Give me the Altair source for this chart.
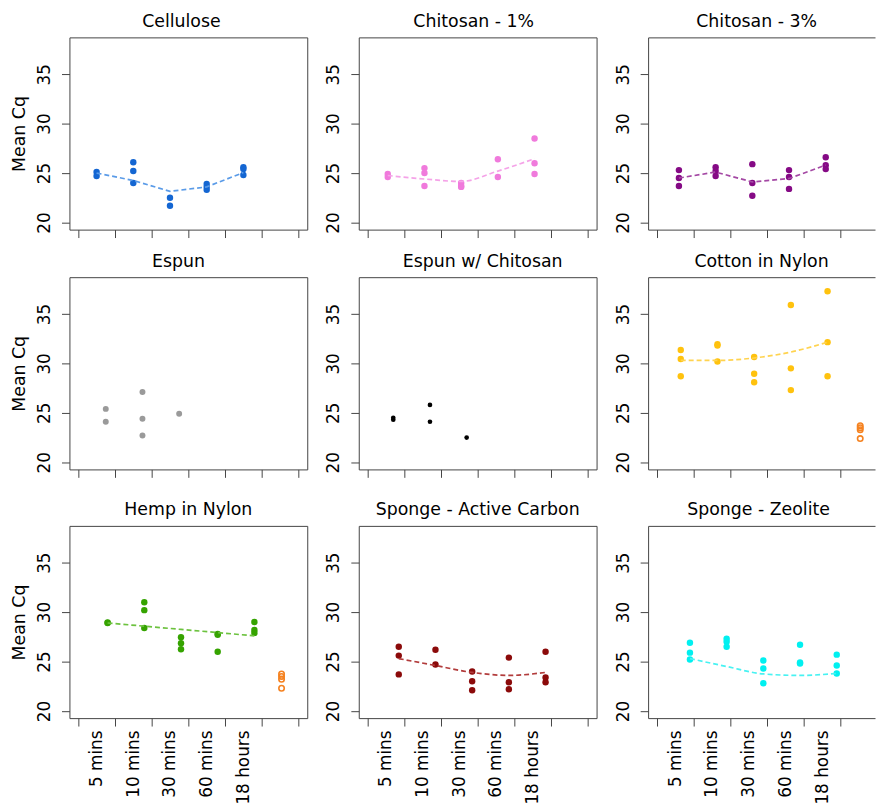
import altair as alt
import pandas as pd

# ---------------- data ----------------
materials = ["Cellulose", "Chitosan - 1%", "Chitosan - 3%",
             "Espun", "Espun w/ Chitosan", "Cotton in Nylon",
             "Hemp in Nylon", "Sponge - Active Carbon", "Sponge - Zeolite"]
time_labels = ["5 mins", "10 mins", "30 mins", "60 mins", "18 hours"]

# replicate Mean Cq values per time point (5 mins, 10 mins, 30 mins, 60 mins, 18 hours)
cellulose = [[25.1, 24.7], [26.1, 25.2, 24.0], [22.5, 21.7], [23.9, 23.6, 23.3], [25.6, 25.4, 24.8]]
chitosan_1 = [[24.9, 24.6], [25.5, 25.0, 23.7], [24.0, 23.7, 23.6], [26.4, 24.6], [28.5, 26.0, 24.9]]
chitosan_3 = [[25.3, 24.5, 23.7], [25.6, 25.2, 24.7], [25.9, 24.0, 22.7], [25.3, 24.6, 23.4], [26.6, 25.8, 25.4]]
espun = [[25.4, 24.1], [27.1, 24.4, 22.7], [24.9], [], []]
espun_chitosan = [[24.5, 24.3], [25.8, 24.1], [22.5], [], []]
cotton_nylon = [[31.35, 30.45, 28.7], [31.95, 31.8, 30.2], [30.65, 28.95, 28.1], [35.9, 29.5, 27.3], [37.3, 32.15, 28.7]]
hemp_nylon = [[28.95, 28.9], [31.0, 30.2, 28.4], [27.45, 26.85, 26.25], [27.8, 27.7, 26.0], [29.0, 28.2, 27.9]]
sponge_carbon = [[26.5, 25.6, 23.7], [26.2, 24.7], [24.0, 23.0, 22.1], [25.4, 22.9, 22.2], [26.0, 23.4, 22.9]]
sponge_zeolite = [[26.9, 25.9, 25.2], [27.3, 27.0, 26.5], [25.1, 24.3, 22.8], [26.7, 24.9, 24.8], [25.7, 24.6, 23.8]]
series = [cellulose, chitosan_1, chitosan_3, espun, espun_chitosan,
          cotton_nylon, hemp_nylon, sponge_carbon, sponge_zeolite]

# dashed trend (fitted) values at each time point, None = no trend line
fit_cellulose = [25.0, 24.25, 23.15, 23.6, 25.05]
fit_chitosan_1 = [24.75, 24.4, 24.15, 25.2, 26.45]
fit_chitosan_3 = [24.5, 25.1, 24.1, 24.45, 25.8]
fit_cotton = [30.3, 30.3, 30.55, 31.15, 32.15]
fit_hemp = [28.9, 28.58, 28.25, 27.93, 27.6]
fit_carbon = [25.3, 24.6, 23.9, 23.6, 23.9]
fit_zeolite = [25.3, 24.5, 23.75, 23.6, 23.8]
fits = [fit_cellulose, fit_chitosan_1, fit_chitosan_3, None, None,
        fit_cotton, fit_hemp, fit_carbon, fit_zeolite]
fit_interp = ["linear", "monotone", "linear", None, None,
              "monotone", "linear", "monotone", "monotone"]

# control samples (open orange circles) plotted after the last time point
control_cotton = [23.7, 23.5, 23.3, 22.4]
control_hemp = [23.75, 23.5, 23.2, 22.3]
controls = [None, None, None, None, None, control_cotton, control_hemp, None, None]
control_pos = 6.04

# small horizontal dodge of each material's points
offsets = [0.0, 0.05, 0.1, 0.25, 0.2, 0.15, 0.3, 0.35, 0.4]

# ---------------- styles ----------------
point_colors = ["#1466D2", "#F07ADC", "#850A85", "#9A9A9A", "#000000",
                "#FFC20E", "#35A300", "#8B0A0A", "#00F0F0"]
line_colors = ["#5A9BE8", "#F5A3E8", "#A448A4", None, None,
               "#FFD34F", "#6CC23E", "#B23C3C", "#48F2F2"]
point_sizes = [42, 42, 42, 36, 22, 42, 42, 42, 42]
title_shift = [-7, -4, -5, -10, 5, 0, 0, 0, -3]
control_color = "#F58220"
edge = "#444444"
FONT = "DejaVu Sans"
PX_PER_UNIT = 240 / 6.48
col_widths = [240, 240, 229]   # last column is cut by the right edge, as in the reference
row_axis_extent = [8, 17, 110]

label_expr = " : ".join(
    [f"datum.value === {k + 1} ? '{t}'" for k, t in enumerate(time_labels)]) + " : ''"

yscale = alt.Scale(domain=[19.28, 38.72], nice=False, zero=False)


def make_panel(i, row, col):
    vals = series[i]
    off = offsets[i]
    w = col_widths[col]
    last = (col == 2)
    xmax = 0.26 + w / PX_PER_UNIT
    xscale = alt.Scale(domain=[0.26, xmax], nice=False, zero=False)
    tick_vals = [v / 2 for v in range(1, 14) if v / 2 < xmax]

    pts = pd.DataFrame({
        "x": [k + 1 + off for k, g in enumerate(vals) for _ in g],
        "y": [v for g in vals for v in g],
    })
    xext = row_axis_extent[row]
    xaxis = alt.Axis(
        values=tick_vals, title=None, domain=last, domainColor=edge, domainWidth=1,
        grid=False, tickSize=8, tickColor=edge, tickWidth=1,
        tickOpacity={"condition": {"test": "datum.value % 1 === 0", "value": 0}, "value": 1},
        labels=(row == 2), labelExpr=label_expr, labelAngle=270,
        labelAlign="right", labelBaseline="middle", labelPadding=4,
        labelFontSize=17, labelColor="black", labelOverlap=False,
        labelBound=False, labelFlush=False,
        minExtent=xext, maxExtent=xext,
    )
    yaxis = alt.Axis(
        values=[20, 25, 30, 35], title=("Mean Cq" if col == 0 else None),
        domain=last, domainColor=edge, domainWidth=1,
        grid=False, tickSize=8, tickColor=edge, tickWidth=1,
        labelAngle=270, labelAlign="center", labelBaseline="alphabetic",
        labelPadding=12, labelFontSize=17, labelColor="black",
        minExtent=34, maxExtent=34,
        titleFontSize=17.5, titleFontWeight="normal", titleColor="black",
        titleAngle=270, titleBaseline="bottom", titlePadding=7,
    )
    x_enc = alt.X("x:Q", scale=xscale, axis=xaxis)
    x_plain = alt.X("x:Q", scale=xscale, axis=None) if last else x_enc
    y_enc = alt.Y("y:Q", scale=yscale, axis=yaxis)

    layers = [alt.Chart(pts).mark_circle(size=point_sizes[i], color=point_colors[i], opacity=1)
              .encode(x=x_enc, y=y_enc)]
    if fits[i] is not None:
        fdf = pd.DataFrame({"x": [k + 1 + off for k in range(len(fits[i]))], "y": fits[i]})
        layers.append(alt.Chart(fdf).mark_line(color=line_colors[i], strokeDash=[5, 3],
                                               strokeWidth=1.7, interpolate=fit_interp[i])
                      .encode(x=x_plain, y=y_enc))
    if controls[i] is not None:
        cdf = pd.DataFrame({"x": [control_pos] * len(controls[i]), "y": controls[i]})
        layers.append(alt.Chart(cdf).mark_point(shape="circle", filled=False, size=30,
                                                strokeWidth=1.6, color=control_color, opacity=1)
                      .encode(x=x_plain, y=y_enc))
    if last:
        # top edge of the (right-cut) frame drawn as a top axis line
        top_axis = alt.Axis(orient="top", domain=True, domainColor=edge, domainWidth=1,
                            ticks=False, labels=False, title=None, grid=False,
                            minExtent=0, maxExtent=0)
        layers.append(alt.Chart(pts).mark_circle(opacity=0)
                      .encode(x=alt.X("x:Q", scale=xscale, axis=top_axis), y=y_enc))
    props = dict(
        width=w, height=194,
        title=alt.TitleParams(text=materials[i], fontSize=17.5, fontWeight="normal",
                              font=FONT, color="black", offset=7,
                              anchor="middle", frame="group", dx=title_shift[i]),
    )
    ch = alt.layer(*layers).properties(**props)
    if last:
        ch = ch.properties(view=alt.ViewBackground(stroke="transparent")).resolve_axis(x="independent")
    return ch


rows = []
for r in range(3):
    rows.append(alt.hconcat(*[make_panel(3 * r + c, r, c) for c in range(3)],
                            spacing=52, bounds="flush"))

# fixed canvas (876 x 795): content running past the bottom edge is cut, as in the reference
chart = alt.vconcat(*rows, spacing=14).properties(
    autosize=alt.AutoSizeParams(type="none"),
    padding={"left": 62, "top": 26, "right": 814, "bottom": 769},
).configure(font=FONT).configure_view(stroke=edge, strokeWidth=1).configure_axis(
    labelFont=FONT, titleFont=FONT
)

chart.save("out.html", embed_options={"renderer": "svg", "actions": False})
